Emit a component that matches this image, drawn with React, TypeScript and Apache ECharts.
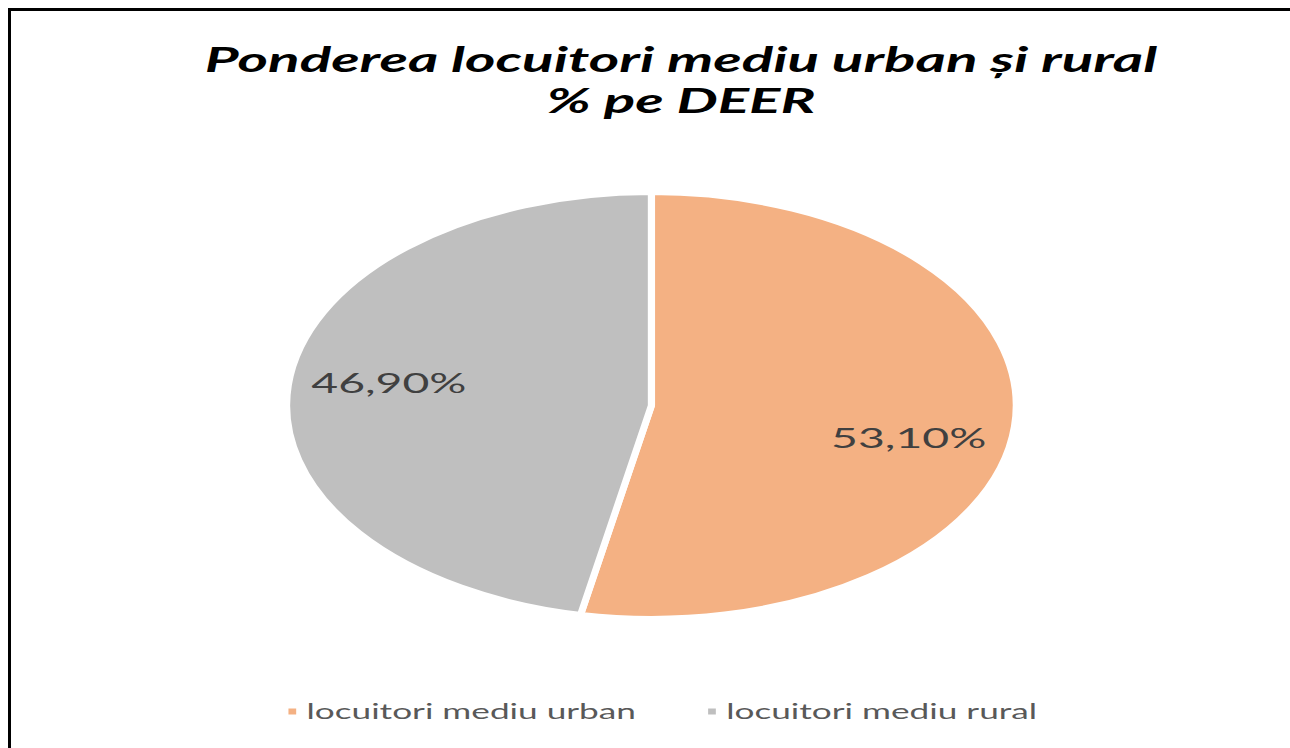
import React, { useEffect, useRef } from "react";
import * as echarts from "echarts";

// Data
const categories = ["locuitori mediu urban", "locuitori mediu rural"];
const shares = [53.1, 46.9];
const sliceColors = ["#F4B183", "#BFBFBF"];
const titleLines = ["Ponderea locuitori mediu urban și rural", "% pe DEER"];

// Layout (the reference is stretched horizontally)
const SX = 1.717;
const W = 1290;
const H = 748;
const labelShift: number[][] = [
  [41.1, 21.3],
  [-44.2, -12.3],
];

export default function App() {
  const ref = useRef<HTMLDivElement>(null);
  useEffect(() => {
    if (!ref.current) return;
    const chart = echarts.init(ref.current, null, { renderer: "svg" });
    chart.setOption({
      animation: false,
      color: sliceColors,
      title: {
        text: titleLines.join("\n"),
        left: 396.6,
        top: 38,
        textAlign: "center",
        padding: 0,
        textStyle: {
          fontFamily: "Lato",
          fontStyle: "italic",
          fontWeight: "bold",
          fontSize: 34,
          lineHeight: 41,
          color: "#000",
        },
      },
      legend: {
        data: categories,
        left: 166,
        top: 701,
        padding: 0,
        icon: "rect",
        itemWidth: 6.5,
        itemHeight: 8,
        itemGap: 40,
        textStyle: { fontFamily: "Lato", fontSize: 20.5, color: "#595959" },
      },
      series: [
        {
          type: "pie",
          center: [379.4, 405.5],
          radius: 212.5,
          startAngle: 90,
          clockwise: true,
          avoidLabelOverlap: false,
          itemStyle: { borderColor: "#ffffff", borderWidth: 4.2 },
          label: {
            show: true,
            position: "inside",
            fontFamily: "Lato",
            fontSize: 27,
            color: "#404040",
            textBorderWidth: 0,
            formatter: (p: any) => p.value.toFixed(2).replace(".", ",") + "%",
          },
          labelLine: { show: false },
          labelLayout: (p: any) => ({
            dx: labelShift[p.dataIndex][0],
            dy: labelShift[p.dataIndex][1],
          }),
          emphasis: { disabled: true },
          data: categories.map((name, i) => ({ name, value: shares[i] })),
        },
      ],
    });
    return () => chart.dispose();
  }, []);
  return (
    <div
      style={{
        position: "fixed",
        left: 0,
        top: 0,
        width: W,
        height: H,
        overflow: "hidden",
        background: "#fff",
      }}
    >
      <div
        style={{
          position: "absolute",
          left: 8,
          top: 8,
          width: W,
          height: H,
          borderLeft: "3px solid #000",
          borderTop: "3px solid #000",
        }}
      />
      <div
        ref={ref}
        style={{
          position: "absolute",
          left: 0,
          top: 0,
          width: W / SX,
          height: H,
          transform: `scaleX(${SX})`,
          transformOrigin: "0 0",
        }}
      />
    </div>
  );
}
